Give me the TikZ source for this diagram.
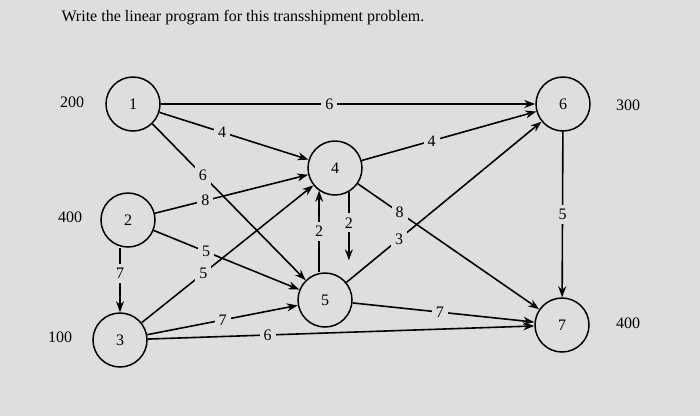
\documentclass[tikz,border=0pt]{standalone}
\usepackage{fontspec}
\setmainfont{Liberation Serif}
\usetikzlibrary{arrows.meta}
\definecolor{bg}{RGB}{222,222,220}
\begin{document}
\begin{tikzpicture}[x=1pt,y=-1pt,
  st/.style={circle,draw,line width=1.5pt,minimum size=54pt,inner sep=0pt,font=\fontsize{16}{18}\selectfont},
  sup/.style={font=\fontsize{16}{18}\selectfont},
  arr/.style={line width=1.6pt,-{Stealth[length=11pt,width=8pt]}},
  lab/.style={fill=bg,inner sep=4pt,font=\fontsize{16}{18}\selectfont}]
\fill[bg] (0,0) rectangle (700,416);
\useasboundingbox (0,0) rectangle (700,416);
\node[font=\fontsize{16}{19}\selectfont,anchor=west] (t) at (58,18) {Write the linear program for this transshipment problem.};
\node[st] (n1) at (133,104) {1};
\node[st] (n2) at (128,220) {2};
\node[st] (n3) at (120,340) {3};
\node[st] (n4) at (335,168) {4};
\node[st] (n5) at (325,300) {5};
\node[st] (n6) at (563,104) {6};
\node[st] (n7) at (562,325) {7};
\node[sup] (s1) at (72,102) {200};
\node[sup] (s2) at (70,217) {400};
\node[sup] (s3) at (60,337) {100};
\node[sup] (s6) at (628,105) {300};
\node[sup] (s7) at (628,323) {400};
\draw[arr] (n1) -- node[lab,pos=0.45] {6} (n6);
\draw[arr] (n1) -- node[lab,pos=0.42] {4} (n4);
\draw[arr] (n1) -- node[lab,pos=0.33] {6} (n5);
\draw[arr] (n2) -- node[lab,pos=0.33] {8} (n4);
\draw[arr] (n2) -- node[lab,pos=0.36] {5} (n5);
\draw[arr] (n2.south -| n3) -- node[lab,pos=0.4] {7} (n3);
\draw[arr] (n3) -- node[lab,pos=0.36] {5} (n4);
\draw[arr] (n3) -- node[lab,pos=0.5] {7} (n5);
\draw[arr] (n3) -- node[lab,pos=0.31] {6} (n7);
\draw[arr] (n4) -- node[lab,pos=0.4] {4} (n6);
\draw[arr] (n4) -- node[lab,pos=0.23] {8} (n7);
\draw[arr] (n5) -- node[lab,pos=0.27] {3} (n6);
\draw[arr] (n5) -- node[lab,pos=0.48] {7} (n7);
\draw[arr] (n6) -- node[lab,pos=0.5] {5} (n7);
\draw[arr] (n4.235 |- n5.north) -- node[lab,pos=0.5] {2} (n4.235);
\draw[arr] (n4.300) -- node[lab,pos=0.45] {2} ([yshift=12pt]n4.300 |- n5.north);
\end{tikzpicture}
\end{document}
